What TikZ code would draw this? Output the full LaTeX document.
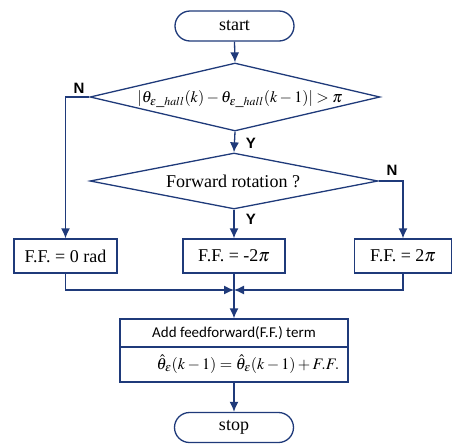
\documentclass[tikz,border=0pt]{standalone}
\usepackage{mathptmx}
\usepackage{fontspec}
\setmainfont{Liberation Serif}
\newfontfamily\calib{Carlito}
\newfontfamily\arialf{Liberation Sans}
\usetikzlibrary{shapes.geometric,arrows.meta}
\definecolor{fcblue}{HTML}{1F3A7A}
\tikzset{
  box/.style={draw=fcblue, line width=1.3pt, rectangle, inner sep=0pt, font=\fontsize{18}{20}\selectfont},
  term/.style={box, rounded corners=15pt, minimum width=119pt, minimum height=30pt},
  ffbox/.style={box, minimum height=34pt},
  dia/.style={draw=fcblue, line width=1.3pt, shape=diamond, inner sep=0pt},
  flow/.style={draw=fcblue, line width=1.3pt, -{Latex[length=10pt,width=9pt]}},
  yn/.style={font=\arialf\bfseries\fontsize{15}{17}\selectfont, inner sep=0pt},
  txt/.style={inner sep=0pt, font=\fontsize{18}{20}\selectfont},
  mth/.style={inner sep=0pt, font=\fontsize{16}{18}\selectfont}
}
\begin{document}
\begin{tikzpicture}[x=1pt,y=-1pt]
\useasboundingbox (0,0) rectangle (453,445);
% terminals
\node[term] (start) at (234.5,26) {start};
\node[term] (stop) at (234,427.5) {stop};
% decisions
\node[dia, minimum width=290pt, minimum height=68pt] (d1) at (235,97) {};
\node[mth] (d1t) at (240,99) {$|\theta_{\varepsilon\_hall}(k)-\theta_{\varepsilon\_hall}(k-1)|>\pi$};
\node[dia, minimum width=288pt, minimum height=56pt] (d2) at (234,181) {};
\node[txt] (d2t) at (233,181) {Forward rotation ?};
% F.F. boxes
\node[ffbox, minimum width=103pt] (b1) at (65.5,256) {F.F. = 0 rad};
\node[ffbox, minimum width=102pt] (b2) at (234,256) {F.F. = -2$\pi$};
\node[ffbox, minimum width=97pt] (b3) at (403,256) {F.F. = 2$\pi$};
% add box
\node[box, minimum width=228pt, minimum height=28pt, font=\calib\fontsize{15}{17}\selectfont] (addA) at (234,333) {Add feedforward(F.F.) term};
\node[box, minimum width=228pt, minimum height=35pt] (addB) at (234,364.5) {};
\node[mth] (addBt) at (248,364) {$\hat{\theta}_{\varepsilon}(k-1)=\hat{\theta}_{\varepsilon}(k-1)+F.F.$};
% labels
\node[yn] (n1) at (79,88) {N};
\node[yn] (y1) at (251,143) {Y};
\node[yn] (y2) at (251,219) {Y};
\node[yn] (n2) at (392,170) {N};
% connectors
\coordinate (mrg) at (234,290);
\draw[flow] (start.south) -- (d1.north);
\draw[flow] (d1.west) -| (b1.north);
\draw[flow] (d1.south) -- (d2.north);
\draw[flow] (d2.south) -- (b2.north);
\draw[flow] (d2.east) -| (b3.north);
\draw[flow] (b1.south) |- (mrg);
\draw[flow] (b3.south) |- (mrg);
\draw[flow] (b2.south) -- (addA.north);
\draw[flow] (addB.south) -- (stop.north);
\end{tikzpicture}
\end{document}
